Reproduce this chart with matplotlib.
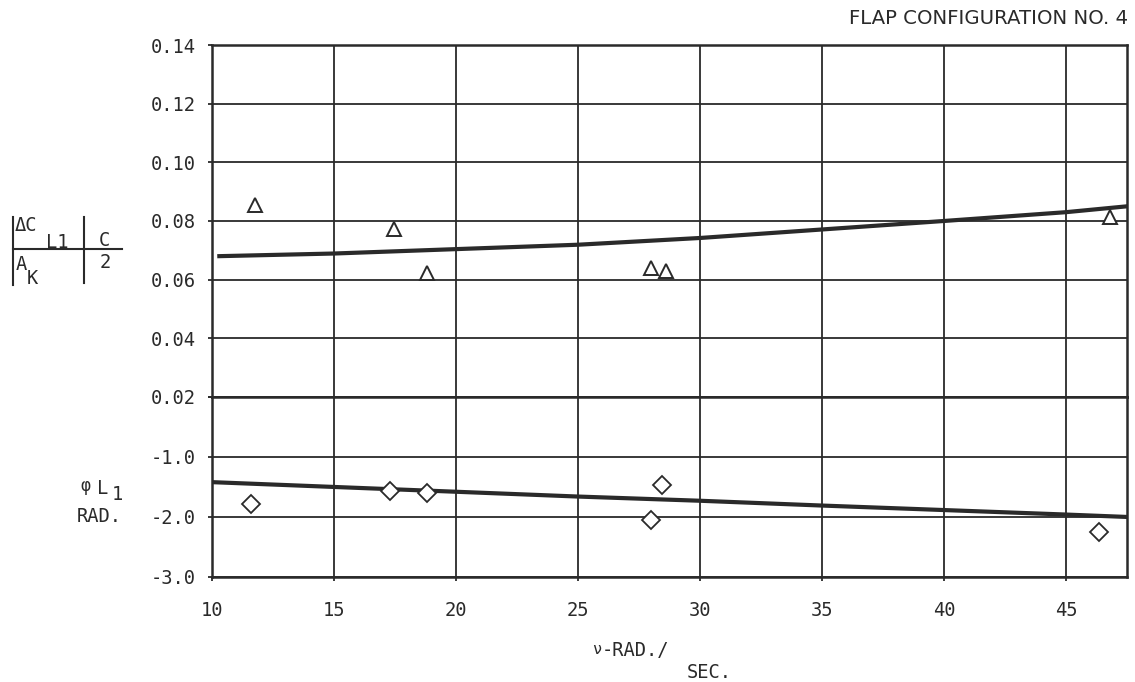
import matplotlib
matplotlib.use("Agg")
from matplotlib import pyplot as plt
from matplotlib.lines import Line2D

plt.rcParams['axes.unicode_minus'] = False
plt.rcParams['font.family'] = ['DejaVu Sans Mono']

# ---- data ----
# amplitude |dC_L1/A_K| c/2  (triangles)
tri_x = [11.75, 17.45, 18.8, 28.0, 28.6, 46.8]
tri_y = [0.0853, 0.0772, 0.0624, 0.0638, 0.0630, 0.0815]
# phase phi_L1 in rad (diamonds)
dia_x = [11.6, 17.3, 18.8, 28.0, 28.45, 46.35]
dia_y = [-1.79, -1.56, -1.60, -2.05, -1.46, -2.25]
# faired curves
amp_fit_x = [10.3, 15, 20, 25, 30, 35, 40, 45, 47.5]
amp_fit_y = [0.0680, 0.0689, 0.0704, 0.0719, 0.0742, 0.0771, 0.0800, 0.0830, 0.0850]
ph_fit_x = [10, 15, 20, 25, 30, 35, 40, 45, 47.5]
ph_fit_y = [-1.42, -1.50, -1.58, -1.66, -1.73, -1.81, -1.885, -1.96, -2.0]

x_ticks = [10, 15, 20, 25, 30, 35, 40, 45]
amp_ticks = [0.02, 0.04, 0.06, 0.08, 0.10, 0.12, 0.14]
ph_ticks = [-3.0, -2.0, -1.0, 0.0]
ph_labels = ['-3.0', '-2.0', '-1.0', '']

ink = '#2a2a2a'
W, H = 1135, 682

def px(x, y):
    return x / W, 1 - y / H

fig = plt.figure(figsize=(11.35, 6.82), dpi=100)
ax1 = fig.add_axes([0.1868, 0.418, 0.8062, 0.516])
ax2 = fig.add_axes([0.1868, 0.154, 0.8062, 0.264])

for ax in (ax1, ax2):
    ax.set_xlim(10, 47.5)
    ax.set_xticks(x_ticks)
    ax.grid(True, color=ink, lw=1.3)
    ax.set_axisbelow(True)
    for s in ax.spines.values():
        s.set_color(ink)
        s.set_linewidth(1.8)
    ax.tick_params(direction='out', length=3, width=1.3, color=ink,
                   labelcolor=ink, labelsize=13.5, pad=9)

ax1.set_ylim(0.02, 0.14)
ax1.set_yticks(amp_ticks)
ax1.set_yticklabels(['%.2f' % v for v in amp_ticks])
ax1.tick_params(axis='x', labelbottom=False, length=0)
ax1.plot(amp_fit_x, amp_fit_y, color=ink, lw=3)
ax1.plot(tri_x, tri_y, ls='none', marker='^', ms=10, mfc='white',
         mec=ink, mew=1.4)

ax2.set_ylim(-3.0, 0.0)
ax2.set_yticks(ph_ticks)
ax2.set_yticklabels(ph_labels)
ax2.tick_params(axis='x', pad=14)
ax2.plot(ph_fit_x, ph_fit_y, color=ink, lw=3)
ax2.plot(dia_x, dia_y, ls='none', marker='D', ms=9.5, mfc='white',
         mec=ink, mew=1.3)

fs = 13.5
# amplitude label  |dC_L1 / A_K|  c/2
fig.add_artist(Line2D([px(13, 0)[0]] * 2, [px(0, 217)[1], px(0, 285)[1]], color=ink, lw=1.5))
fig.add_artist(Line2D([px(84, 0)[0]] * 2, [px(0, 217)[1], px(0, 283)[1]], color=ink, lw=1.5))
fig.add_artist(Line2D([px(13, 0)[0], px(122, 0)[0]], [px(0, 249)[1]] * 2, color=ink, lw=1.5))
fig.text(*px(15, 226), 'ΔC', fontsize=fs, color=ink, va='center')
fig.text(*px(46, 242), 'L1', fontsize=fs, color=ink, va='center')
fig.text(*px(16, 265), 'A', fontsize=fs, color=ink, va='center')
fig.text(*px(27, 278), 'K', fontsize=fs, color=ink, va='center')
fig.text(*px(104, 241), 'C', fontsize=fs, color=ink, va='center', ha='center')
fig.text(*px(105, 262), '2', fontsize=fs, color=ink, va='center', ha='center')

# phase label
fig.text(*px(80, 486), 'φ', fontsize=12, color=ink, va='center')
fig.text(*px(97, 489), 'L', fontsize=fs, color=ink, va='center')
fig.text(*px(112, 495), '1', fontsize=fs, color=ink, va='center')
fig.text(*px(77, 516), 'RAD.', fontsize=fs, color=ink, va='center')

# x label
fig.text(*px(592, 649), 'ν', fontsize=11, color=ink, va='center')
fig.text(*px(602, 651), '-RAD./', fontsize=fs, color=ink, va='center')
fig.text(*px(687, 673), 'SEC.', fontsize=fs, color=ink, va='center')

# title
fig.text(*px(1128, 18), 'FLAP CONFIGURATION NO. 4',
         family=['DejaVu Sans'], fontsize=14.2,
         color=ink, ha='right', va='center')

fig.savefig('out.png', dpi=100)
